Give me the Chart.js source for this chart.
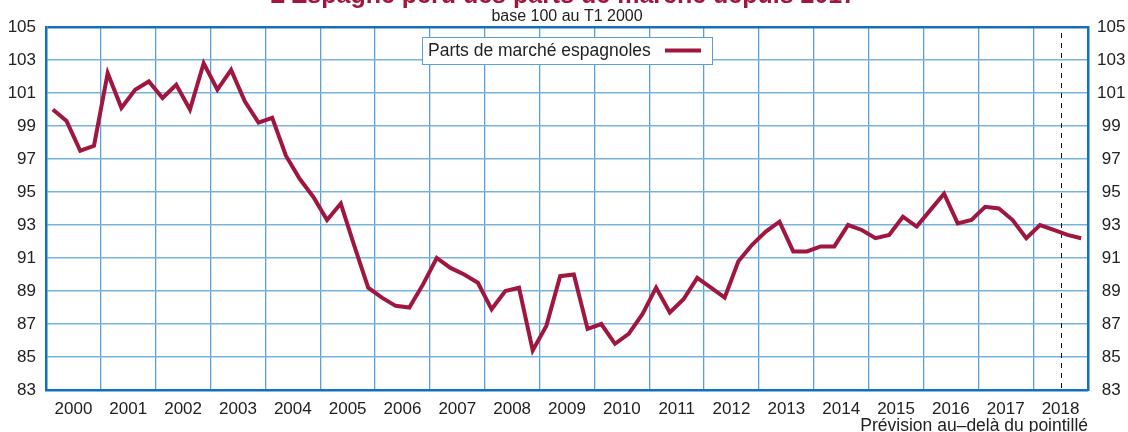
<!DOCTYPE html>
<html>
<head>
<meta charset="utf-8">
<script src="https://cdn.jsdelivr.net/npm/chart.js@4/dist/chart.umd.min.js"></script>
<style>
  html, body { margin: 0; padding: 0; background: #fff; }
</style>
</head>
<body>
<canvas id="chart" width="1128" height="432"></canvas>
<script>
// Parts de marché espagnoles, base 100 au T1 2000 (trimestriel, 2000T1 -> 2018T4)

const years = ['2000', '2001', '2002', '2003', '2004', '2005', '2006', '2007', '2008', '2009',
  '2010', '2011', '2012', '2013', '2014', '2015', '2016', '2017', '2018']

const partsMarche = [
  100.0, 99.3, 97.5, 97.8,   // 2000
  102.2, 100.1, 101.2, 101.7, // 2001
  100.7, 101.5, 100.0, 102.8, // 2002
  101.2, 102.4, 100.5, 99.2,  // 2003
  99.5, 97.2, 95.8, 94.7,     // 2004
  93.3, 94.3, 91.7, 89.2,     // 2005
  88.6, 88.1, 88.0, 89.4,     // 2006
  91.0, 90.4, 90.0, 89.5,     // 2007
  87.9, 89.0, 89.2, 85.4,     // 2008
  86.9, 89.9, 90.0, 86.7,     // 2009
  87.0, 85.8, 86.4, 87.6,     // 2010
  89.2, 87.7, 88.5, 89.8,     // 2011
  89.2, 88.6, 90.8, 91.8,     // 2012
  92.6, 93.2, 91.4, 91.4,     // 2013
  91.7, 91.7, 93.0, 92.7,     // 2014
  92.2, 92.4, 93.5, 92.9,     // 2015
  93.9, 94.9, 93.1, 93.3,     // 2016
  94.1, 94.0, 93.3, 92.2,     // 2017
  93.0, 92.7, 92.4, 92.2      // 2018
]

const yTicks = [83, 85, 87, 89, 91, 93, 95, 97, 99, 101, 103, 105]

// prévision au-delà de ce trimestre (fin T2 2018)
const forecastStart = 74

const TITLE = 'L’Espagne perd des parts de marché depuis 2017'
const SUBTITLE = 'base 100 au T1 2000'
const LEGEND_LABEL = 'Parts de marché espagnoles'
const FOOTER = 'Prévision au–delà du pointillé'

const RED = '#a0163f'
const FRAME = '#1170bf'
const GRID_V = '#5aa1d9'
const GRID_H = '#78b3e0'
const TEXT = '#222'
const FONT = '"Liberation Sans", Arial, Helvetica, sans-serif'

const quarterCount = years.length * 4
const points = partsMarche.map((v, i) => ({ x: i + 0.5, y: v }))

const decorPlugin = {
  id: 'decor',
  beforeDatasetsDraw(chart) {
    const { ctx, chartArea, scales } = chart
    const x = Math.round(scales.x.getPixelForValue(forecastStart)) + 0.5
    ctx.save()
    ctx.strokeStyle = '#111'
    ctx.lineWidth = 1
    ctx.setLineDash([5, 5])
    ctx.beginPath()
    ctx.moveTo(x, chartArea.top + 6)
    ctx.lineTo(x, chartArea.bottom)
    ctx.stroke()
    ctx.restore()
  },
  afterDraw(chart) {
    const { ctx, chartArea } = chart
    ctx.save()

    // titre (coupé en haut comme sur l'original)
    ctx.fillStyle = RED
    ctx.font = 'bold 25px ' + FONT
    ctx.textAlign = 'center'
    ctx.textBaseline = 'alphabetic'
    ctx.fillText(TITLE, 563, 3)

    ctx.fillStyle = TEXT
    ctx.font = '16px ' + FONT
    ctx.fillText(SUBTITLE, 567, 21)

    // légende
    const bx = 422, by = 37, bw = 290, bh = 27
    ctx.fillStyle = '#fff'
    ctx.fillRect(bx, by, bw, bh)
    ctx.strokeStyle = GRID_V
    ctx.lineWidth = 1
    ctx.strokeRect(bx + 0.5, by + 0.5, bw, bh)
    ctx.fillStyle = TEXT
    ctx.font = '17.5px ' + FONT
    ctx.textAlign = 'left'
    ctx.textBaseline = 'middle'
    ctx.fillText(LEGEND_LABEL, bx + 6, by + bh / 2 + 1)
    ctx.strokeStyle = RED
    ctx.lineWidth = 4
    ctx.beginPath()
    ctx.moveTo(bx + 243, by + bh / 2)
    ctx.lineTo(bx + 279, by + bh / 2)
    ctx.stroke()

    // note de bas de page
    ctx.fillStyle = TEXT
    ctx.font = '17.5px ' + FONT
    ctx.textAlign = 'right'
    ctx.textBaseline = 'alphabetic'
    ctx.fillText(FOOTER, chartArea.right, 431)

    ctx.restore()
  }
}

const tickFont = { family: FONT, size: 17 }

new Chart(document.getElementById('chart'), {
  type: 'line',
  data: {
    datasets: [{
      label: LEGEND_LABEL,
      data: points,
      borderColor: RED,
      borderWidth: 4,
      pointRadius: 0,
      tension: 0,
      fill: false
    }]
  },
  options: {
    responsive: false,
    animation: false,
    layout: { padding: { top: 27, left: 0, right: 0, bottom: 0 } },
    plugins: {
      legend: { display: false },
      tooltip: { enabled: false }
    },
    scales: {
      x: {
        type: 'linear',
        min: 0,
        max: quarterCount,
        afterBuildTicks: (axis) => {
          const t = []
          for (let v = 0; v <= quarterCount; v += 2) t.push({ value: v })
          axis.ticks = t
        },
        afterFit: (axis) => { axis.height = 42 },
        grid: {
          drawTicks: false,
          color: (c) => (c.tick && c.tick.value % 4 === 0 ? GRID_V : 'rgba(0,0,0,0)'),
          lineWidth: 1.3
        },
        border: { color: FRAME, width: 2.5 },
        ticks: {
          autoSkip: false,
          maxRotation: 0,
          padding: 9,
          color: TEXT,
          font: tickFont,
          callback: (v) => (v % 4 === 2 ? years[(v - 2) / 4] : '')
        }
      },
      y: {
        position: 'left',
        min: 83,
        max: 105,
        afterBuildTicks: (axis) => { axis.ticks = yTicks.map((v) => ({ value: v })) },
        afterFit: (axis) => { axis.width = 46 },
        grid: {
          drawTicks: false,
          color: (c) => (c.tick && c.tick.value === 105 ? FRAME : GRID_H),
          lineWidth: (c) => (c.tick && c.tick.value === 105 ? 2.5 : 1.5)
        },
        border: { color: FRAME, width: 2.5 },
        ticks: { padding: 10, color: TEXT, font: tickFont }
      },
      y2: {
        position: 'right',
        min: 83,
        max: 105,
        afterBuildTicks: (axis) => { axis.ticks = yTicks.map((v) => ({ value: v })) },
        afterFit: (axis) => { axis.width = 40 },
        grid: { display: false, drawTicks: false },
        border: { color: FRAME, width: 2.5 },
        ticks: { padding: 9, crossAlign: 'center', color: TEXT, font: tickFont }
      }
    }
  },
  plugins: [decorPlugin]
})
</script>
</body>
</html>
